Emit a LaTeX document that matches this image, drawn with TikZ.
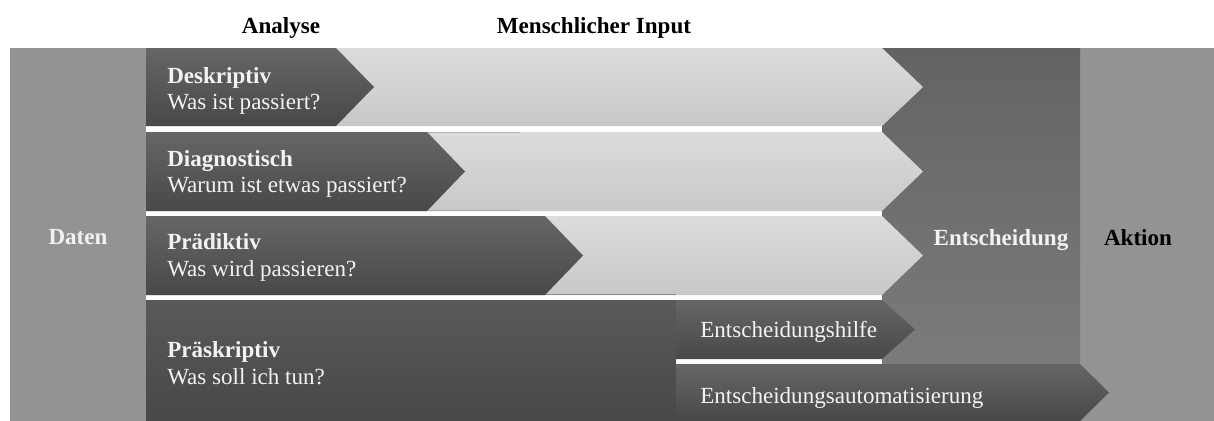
\documentclass[tikz,border=0pt]{standalone}
\usepackage{fontspec}
\setmainfont{Liberation Serif}
\usetikzlibrary{positioning}

\definecolor{sidegray}{HTML}{939393}
\definecolor{darktop}{HTML}{666666}
\definecolor{darkbot}{HTML}{484848}
\definecolor{lighttop}{HTML}{DCDCDC}
\definecolor{lightbot}{HTML}{C8C8C8}
\definecolor{enttop}{HTML}{636363}
\definecolor{entbot}{HTML}{7B7B7B}
\definecolor{txtwhite}{HTML}{F2F2F2}

\begin{document}
\begin{tikzpicture}[x=0.75pt, y=-0.75pt,
    txt/.style={font=\fontsize{17.3}{26}\selectfont, inner sep=0pt, txtwhite},
    bold/.style={txt, font=\fontsize{17.3}{26}\selectfont\bfseries},
    darkarrow/.style={top color=darktop, bottom color=darkbot},
    lightarrow/.style={top color=lighttop, bottom color=lightbot}]
    \useasboundingbox (0,0) rectangle (1214,421);

    % Daten and Aktion columns
    \fill[sidegray] (10,48) rectangle (146,421);
    \fill[sidegray] (1080,48) rectangle (1214,421);

    % Entscheidung column
    \shade[top color=enttop, bottom color=entbot] (882,48) rectangle (1080,363);

    % Menschlicher Input bars
    \shade[lightarrow] (146,48) -- (882,48) -- (923,87) -- (882,126) -- (146,126) -- cycle;
    \shade[lightarrow] (146,132) -- (882,132) -- (923,171.5) -- (882,211) -- (146,211) -- cycle;
    \shade[lightarrow] (146,216) -- (882,216) -- (923,255.5) -- (882,295) -- (146,295) -- cycle;
    \draw[black!30, line width=0.75pt] (427,132.4) -- (520,132.4);
    \draw[black!35, line width=0.75pt] (427,210.6) -- (520,210.6);
    \draw[black!45, line width=0.75pt] (545,294.6) -- (676,294.6);

    % Analyse arrows
    \shade[darkarrow] (146,48) -- (336,48) -- (374,87) -- (336,126) -- (146,126) -- cycle;
    \shade[darkarrow] (146,132) -- (427,132) -- (465,171.5) -- (427,211) -- (146,211) -- cycle;
    \shade[darkarrow] (146,216) -- (545,216) -- (583,255.5) -- (545,295) -- (146,295) -- cycle;
    \shade[top color=black!65, bottom color=darkbot] (146,300) rectangle (676,421);

    % Entscheidungshilfe and -automatisierung
    \shade[darkarrow] (676,300) -- (882,300) -- (915,329.5) -- (882,359) -- (676,359) -- cycle;
    \shade[darkarrow] (676,364) -- (1080,364) -- (1109,392.5) -- (1080,421) -- (676,421) -- cycle;

    % headings
    \node[bold, black, anchor=base] (analyse) at (281,33) {Analyse};
    \node[bold, black, anchor=base] (input) at (594,33) {Menschlicher Input};

    % column labels
    \node[bold, anchor=base] (daten) at (78,244) {Daten};
    \node[bold, anchor=base] (entsch) at (1001,245) {Entscheidung};
    \node[bold, black, anchor=base] (aktion) at (1138,245) {Aktion};

    % row labels
    \node[bold, anchor=base west] (desk) at (167,83) {Deskriptiv};
    \node[txt, anchor=base west] (deskq) at (167,109) {Was ist passiert?};
    \node[bold, anchor=base west] (diag) at (167,166) {Diagnostisch};
    \node[txt, anchor=base west] (diagq) at (167,192) {Warum ist etwas passiert?};
    \node[bold, anchor=base west] (pred) at (167,249) {Prädiktiv};
    \node[txt, anchor=base west] (predq) at (167,276) {Was wird passieren?};
    \node[bold, anchor=base west] (pres) at (167,357) {Präskriptiv};
    \node[txt, anchor=base west] (presq) at (167,384) {Was soll ich tun?};

    \node[txt, anchor=base west] (hilfe) at (700,337) {Entscheidungshilfe};
    \node[txt, anchor=base west] (auto) at (700,403) {Entscheidungsautomatisierung};
\end{tikzpicture}
\end{document}
